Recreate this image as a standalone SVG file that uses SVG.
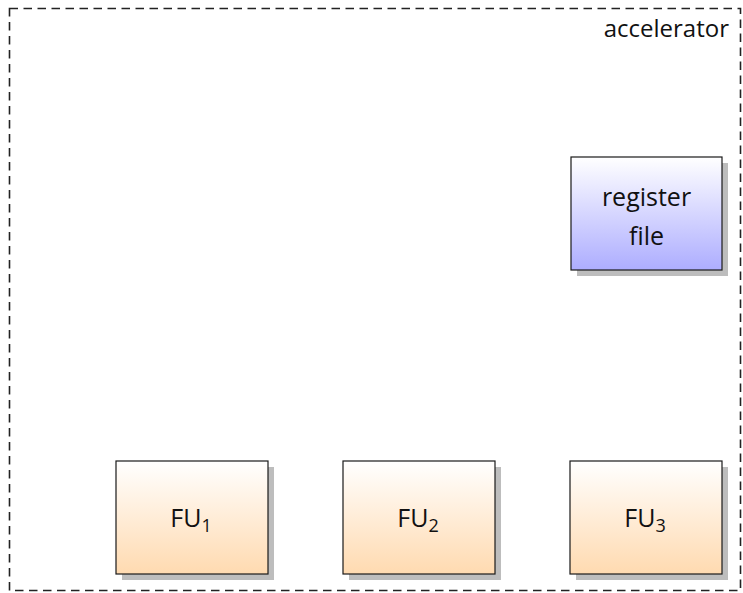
<svg xmlns="http://www.w3.org/2000/svg" width="743" height="593" viewBox="0 0 743 593">
<defs>
<linearGradient id="gBlue" x1="0" y1="0" x2="0" y2="1">
<stop offset="0" stop-color="#ffffff"/>
<stop offset="1" stop-color="#adadff"/>
</linearGradient>
<linearGradient id="gOrange" x1="0" y1="0" x2="0" y2="1">
<stop offset="0" stop-color="#ffffff"/>
<stop offset="1" stop-color="#ffdab0"/>
</linearGradient>
<style>
.shadow{fill:#bdbdbd;}
.box{stroke:#1a1a1a;stroke-width:1.2;}
.lbl{font-family:"Open Sans","DejaVu Sans",sans-serif;font-size:25px;fill:#111;text-anchor:middle;}
.sub{font-size:18px;}
.border{fill:none;stroke:#222;stroke-width:1.6;stroke-dasharray:8.5 5.5;}
</style>
</defs>
<g id="accelerator">
<rect class="border" x="9.5" y="8.5" width="731" height="582"/>
<text class="lbl" x="729" y="37" style="text-anchor:end;font-size:24px">accelerator</text>
</g>
<g id="regfile">
<rect class="shadow" x="577" y="163" width="151" height="113"/>
<rect class="box" x="571" y="157" width="151" height="113" fill="url(#gBlue)"/>
<text class="lbl" x="646.5" y="206">register</text>
<text class="lbl" x="646.5" y="245">file</text>
</g>
<g id="fu1">
<rect class="shadow" x="122" y="467" width="152" height="113"/>
<rect class="box" x="116" y="461" width="152" height="113" fill="url(#gOrange)"/>
<text class="lbl" x="191" y="527">FU<tspan class="sub" dy="5">1</tspan></text>
</g>
<g id="fu2">
<rect class="shadow" x="349" y="467" width="152" height="113"/>
<rect class="box" x="343" y="461" width="152" height="113" fill="url(#gOrange)"/>
<text class="lbl" x="418" y="527">FU<tspan class="sub" dy="5">2</tspan></text>
</g>
<g id="fu3">
<rect class="shadow" x="576" y="467" width="152" height="113"/>
<rect class="box" x="570" y="461" width="152" height="113" fill="url(#gOrange)"/>
<text class="lbl" x="645" y="527">FU<tspan class="sub" dy="5">3</tspan></text>
</g>
<g id="connectors"></g>
</svg>
